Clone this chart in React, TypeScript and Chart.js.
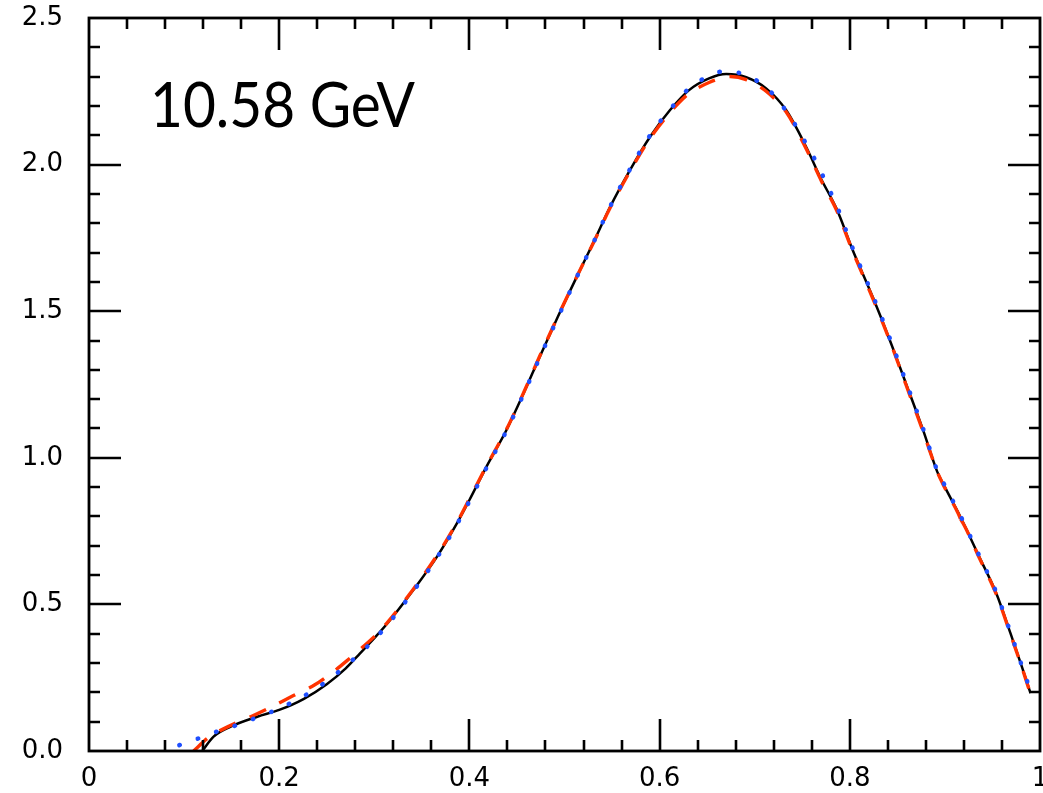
import React, { useEffect, useRef } from "react";
import { Chart, registerables } from "chart.js";

Chart.register(...registerables);

const blackX = [0.119, 0.131, 0.149, 0.177, 0.2, 0.226, 0.25, 0.27, 0.285, 0.3, 0.315, 0.341, 0.366, 0.387, 0.4, 0.418, 0.439, 0.457, 0.474, 0.493, 0.513, 0.532, 0.548, 0.569, 0.59, 0.611, 0.631, 0.652, 0.67, 0.691, 0.712, 0.733, 0.754, 0.77, 0.786, 0.803, 0.824, 0.842, 0.859, 0.877, 0.892, 0.9, 0.917, 0.936, 0.954, 0.969, 0.981, 0.99];
const blackY = [0, 0.049, 0.083, 0.117, 0.14, 0.178, 0.228, 0.282, 0.333, 0.385, 0.44, 0.549, 0.663, 0.777, 0.856, 0.97, 1.095, 1.22, 1.345, 1.481, 1.618, 1.745, 1.856, 1.982, 2.095, 2.186, 2.254, 2.294, 2.309, 2.298, 2.26, 2.186, 2.061, 1.95, 1.85, 1.709, 1.549, 1.402, 1.254, 1.095, 0.952, 0.9, 0.794, 0.663, 0.538, 0.401, 0.287, 0.197];

const redX = [0.11, 0.1265, 0.148, 0.17, 0.192, 0.215, 0.237, 0.256, 0.272, 0.287, 0.3, 0.315, 0.341, 0.366, 0.387, 0.4, 0.418, 0.439, 0.457, 0.474, 0.493, 0.513, 0.532, 0.548, 0.569, 0.59, 0.611, 0.631, 0.652, 0.672, 0.691, 0.712, 0.733, 0.754, 0.77, 0.786, 0.803, 0.824, 0.842, 0.859, 0.877, 0.892, 0.9, 0.9165, 0.909, 0.917, 0.936, 0.954, 0.969, 0.981, 0.99];
const redY = [0, 0.048, 0.086, 0.117, 0.151, 0.189, 0.225, 0.268, 0.31, 0.352, 0.39, 0.443, 0.552, 0.667, 0.78, 0.86, 0.972, 1.097, 1.222, 1.347, 1.482, 1.618, 1.744, 1.853, 1.978, 2.09, 2.178, 2.243, 2.28, 2.3, 2.29, 2.25, 2.18, 2.055, 1.945, 1.845, 1.705, 1.545, 1.4, 1.25, 1.09, 0.952, 0.897, 0.79, 0.8, 0.788, 0.66, 0.535, 0.398, 0.285, 0.195];

const blueX = [0.095, 0.116, 0.136, 0.156, 0.177, 0.1965, 0.216, 0.235, 0.253, 0.269, 0.285, 0.3, 0.315, 0.341, 0.366, 0.387, 0.4, 0.418, 0.439, 0.457, 0.474, 0.493, 0.513, 0.532, 0.548, 0.569, 0.59, 0.6175, 0.633, 0.651, 0.665, 0.686, 0.705, 0.721, 0.734, 0.746, 0.756, 0.767, 0.776, 0.785, 0.803, 0.824, 0.842, 0.859, 0.877, 0.892, 0.9, 0.917, 0.936, 0.954, 0.969, 0.981, 0.99];
const blueY = [0.02, 0.044, 0.068, 0.089, 0.115, 0.14, 0.17, 0.205, 0.245, 0.288, 0.333, 0.38, 0.435, 0.545, 0.66, 0.774, 0.852, 0.966, 1.092, 1.217, 1.342, 1.478, 1.617, 1.745, 1.857, 1.985, 2.1, 2.213, 2.266, 2.3, 2.317, 2.311, 2.28, 2.234, 2.178, 2.118, 2.059, 1.995, 1.93, 1.87, 1.715, 1.555, 1.408, 1.26, 1.1, 0.956, 0.905, 0.798, 0.667, 0.541, 0.404, 0.29, 0.205];

const xTickLabels = ["0", "0.2", "0.4", "0.6", "0.8", "1"];
const yTickLabels = ["0.0", "0.5", "1.0", "1.5", "2.0", "2.5"];
const labelText = "10.58 GeV";

const pts = (xs: number[], ys: number[]) => xs.map((x, i) => ({ x, y: ys[i] }));

const framePlugin = {
  id: "frameTicks",
  afterDatasetsDraw(chart: any) {
    const { ctx, chartArea } = chart;
    const xs = chart.scales.x;
    const ys = chart.scales.y;
    const { left, right, top, bottom } = chartArea;
    ctx.save();
    ctx.strokeStyle = "#000";
    ctx.lineWidth = 2.6;
    ctx.beginPath();
    for (let i = 1; i < 25; i++) {
      const v = i * 0.04;
      const major = i % 5 === 0;
      const len = major ? 32 : 11;
      const px = Math.round(xs.getPixelForValue(v));
      ctx.moveTo(px, bottom);
      ctx.lineTo(px, bottom - len);
      ctx.moveTo(px, top);
      ctx.lineTo(px, top + len);
    }
    for (let i = 1; i < 25; i++) {
      const v = i * 0.1;
      const major = i % 5 === 0;
      const len = major ? 32 : 11;
      const py = Math.round(ys.getPixelForValue(v));
      ctx.moveTo(left, py);
      ctx.lineTo(left + len, py);
      ctx.moveTo(right, py);
      ctx.lineTo(right - len, py);
    }
    ctx.stroke();
    ctx.lineWidth = 2.8;
    ctx.strokeRect(left, top, right - left, bottom - top);
    ctx.fillStyle = "#000";
    ctx.font = "62px Lato";
    ctx.textBaseline = "alphabetic";
    ctx.textAlign = "left";
    ctx.fillText(labelText, 150, 127, 265);
    ctx.restore();
  },
};

export default function App() {
  const ref = useRef<HTMLCanvasElement>(null);
  useEffect(() => {
    if (!ref.current) return;
    const chart = new Chart(ref.current, {
      type: "scatter",
      data: {
        datasets: [
          {
            label: "blue",
            data: pts(blueX, blueY),
            showLine: true,
            borderColor: "#1f4fff",
            borderWidth: 4.5,
            borderDash: [0.5, 19],
            borderCapStyle: "round",
            pointRadius: 0,
            cubicInterpolationMode: "monotone",
          },
          {
            label: "red",
            data: pts(redX, redY),
            showLine: true,
            borderColor: "#ff3300",
            borderWidth: 3.4,
            borderDash: [18, 15],
            pointRadius: 0,
            tension: 0.3,
          },
          {
            label: "black",
            data: pts(blackX, blackY),
            showLine: true,
            borderColor: "#000",
            borderWidth: 2.5,
            pointRadius: 0,
            cubicInterpolationMode: "monotone",
          },
        ],
      },
      options: {
        responsive: false,
        animation: false,
        layout: { padding: { top: 18, right: 30, left: 0, bottom: 0 } },
        plugins: { legend: { display: false }, tooltip: { enabled: false } },
        scales: {
          x: {
            type: "linear",
            min: 0,
            max: 1,
            afterFit: (s: any) => {
              s.height = 42;
              s.paddingLeft = 0;
              s.paddingRight = 0;
              s.paddingTop = 0;
              s.paddingBottom = 0;
            },
            afterBuildTicks: (s: any) => {
              s.ticks = xTickLabels.map((t, i) => ({ value: i * 0.2 }));
            },
            grid: { display: false, drawTicks: false },
            border: { display: false },
            ticks: {
              padding: 13,
              color: "#000",
              font: { family: "DejaVu Sans", size: 26 },
              maxRotation: 0,
              callback: (_v: any, i: number) => xTickLabels[i],
            },
          },
          y: {
            type: "linear",
            min: 0,
            max: 2.5,
            afterFit: (s: any) => {
              s.width = 89;
              s.paddingLeft = 0;
              s.paddingRight = 0;
              s.paddingTop = 0;
              s.paddingBottom = 0;
            },
            afterBuildTicks: (s: any) => {
              s.ticks = yTickLabels.map((t, i) => ({ value: i * 0.5 }));
            },
            grid: { display: false, drawTicks: false },
            border: { display: false },
            ticks: {
              padding: 26,
              color: "#000",
              font: { family: "DejaVu Sans", size: 26 },
              callback: (_v: any, i: number) => yTickLabels[i],
            },
          },
        },
      },
      plugins: [framePlugin],
    });
    return () => chart.destroy();
  }, []);
  return (
    <div style={{ position: "absolute", left: 0, top: 0, width: 1043, height: 793, overflow: "hidden", background: "#fff" }}>
      <canvas ref={ref} width={1070} height={793} style={{ display: "block" }} />
    </div>
  );
}
